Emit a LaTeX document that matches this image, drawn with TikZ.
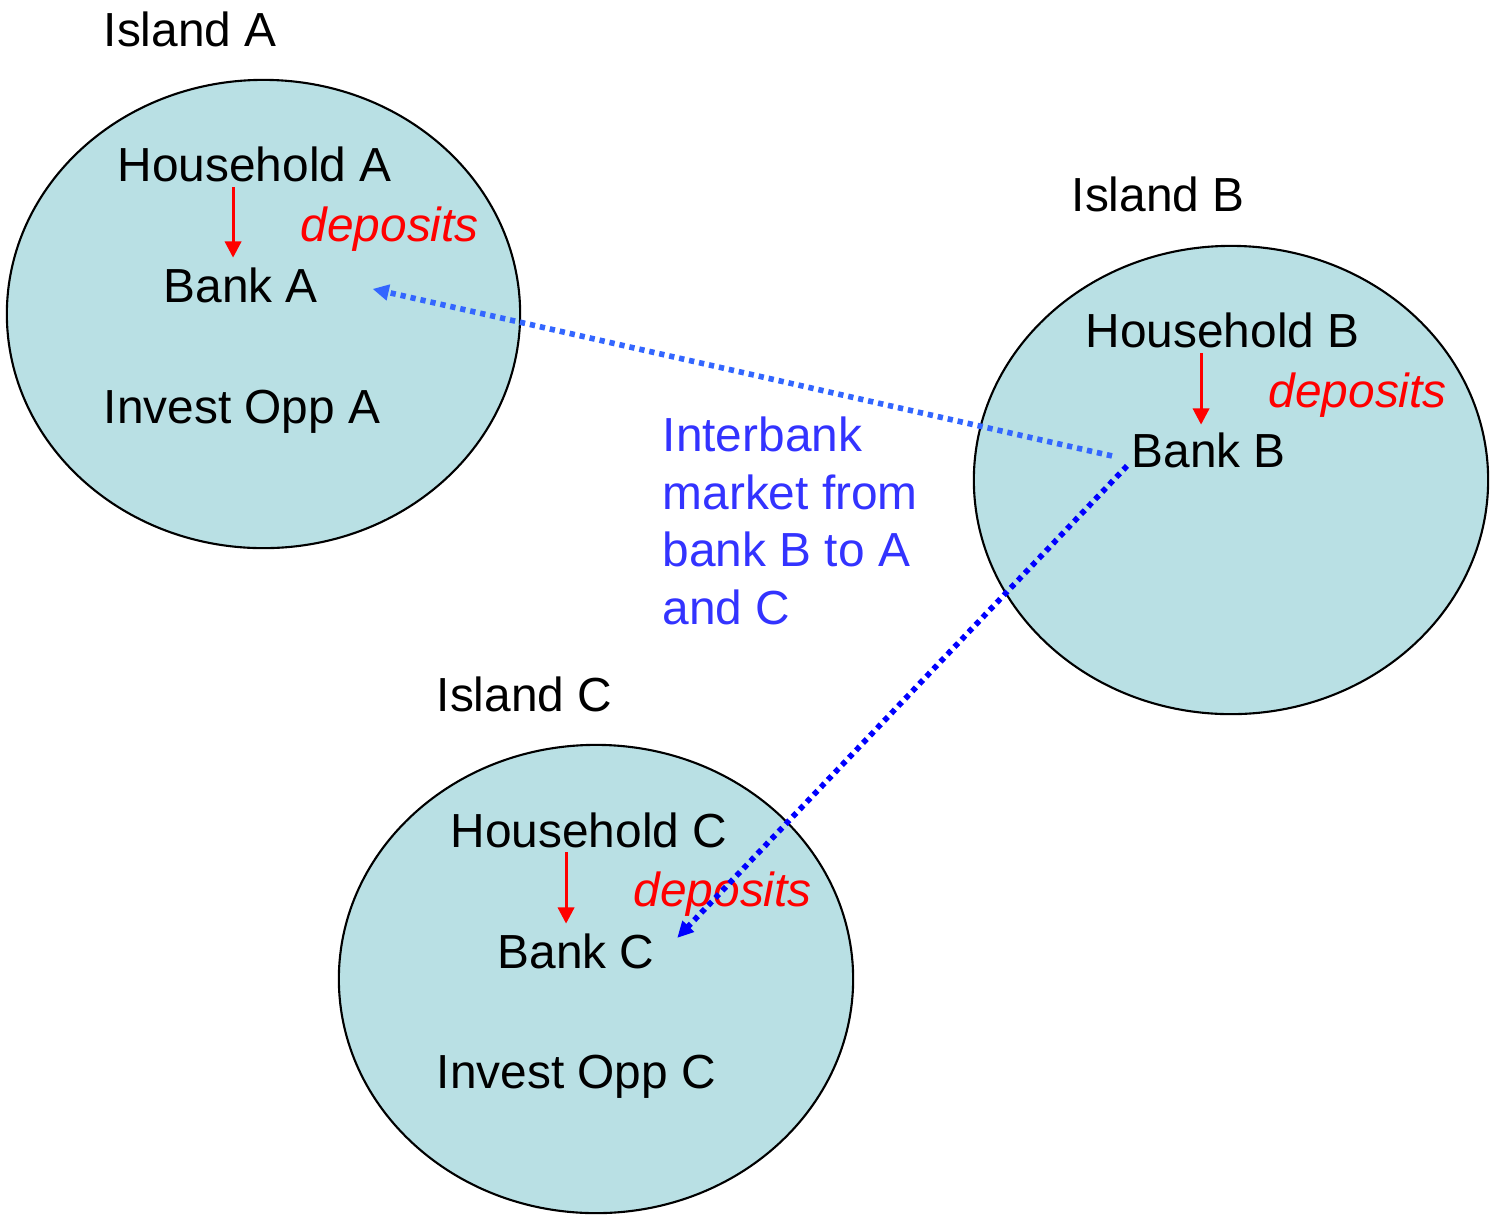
\documentclass[tikz,border=0pt]{standalone}
\usepackage{fontspec}
\setmainfont{Liberation Sans}
\usepackage{tikz}
\usetikzlibrary{arrows.meta,positioning}

\definecolor{islandfill}{RGB}{185,224,228}
\definecolor{loanblue}{RGB}{51,102,255}
\definecolor{loandeep}{RGB}{0,0,255}
\definecolor{marketblue}{RGB}{51,51,255}

\begin{document}
\begin{tikzpicture}[
      x=0.01cm,
      y=-0.01cm,
      island/.style={
          draw=black,
          line width=0.6pt,
          fill=islandfill
        },
      lbl/.style={
          anchor=base west,
          inner sep=0pt,
          font=\fontsize{13.6}{16}\selectfont
        },
      dep/.style={
          lbl,
          text=red,
          font=\fontsize{13.6}{16}\selectfont\itshape
        },
      deparrow/.style={
          draw=red,
          line width=0.85pt,
          -{Triangle[width=4.6pt,length=4.6pt]}
        },
      loan/.style={
          line width=1.6pt,
          dash pattern=on 1.5pt off 1.4pt,
          -{Triangle[width=4.4pt,length=4.6pt]}
        }
    ]
    \useasboundingbox (0,0) rectangle (1490,1217);
    % the three islands
    \draw[island] (263.5,314) ellipse [x radius=2.565cm, y radius=2.34cm];
    \draw[island] (1231,480) ellipse [x radius=2.57cm, y radius=2.34cm];
    \draw[island] (596,979) ellipse [x radius=2.57cm, y radius=2.34cm];

    % island A
    \node[lbl] (islA) at (103,46) {Island A};
    \node[lbl] (hhA) at (117,181) {Household A};
    \node[dep] (depA) at (300,241) {deposits};
    \node[lbl] (bankA) at (163,302) {Bank A};
    \node[lbl] (invA) at (103,423) {Invest Opp A};
    \coordinate (hhAout) at ([xshift=1.16cm,yshift=-0.05cm]hhA.south west);
    \coordinate[yshift=0.09cm] (bankAin) at (hhAout |- bankA.north);
    \draw[deparrow] (hhAout) -- (bankAin);

    % island B
    \node[lbl] (islB) at (1071,211) {Island B};
    \node[lbl] (hhB) at (1085,347) {Household B};
    \node[dep] (depB) at (1268,407) {deposits};
    \node[lbl] (bankB) at (1131,467) {Bank B};
    \coordinate (hhBout) at ([xshift=1.16cm,yshift=-0.05cm]hhB.south west);
    \coordinate[yshift=0.07cm] (bankBin) at (hhBout |- bankB.north);
    \draw[deparrow] (hhBout) -- (bankBin);

    % island C
    \node[lbl] (islC) at (436,711) {Island C};
    \node[lbl] (hhC) at (450,847) {Household C};
    \node[dep] (depC) at (633,906) {deposits};
    \node[lbl] (bankC) at (497,968) {Bank C};
    \node[lbl] (invC) at (436,1088) {Invest Opp C};
    \coordinate (hhCout) at ([xshift=1.16cm,yshift=-0.04cm]hhC.south west);
    \coordinate[yshift=0.09cm] (bankCin) at (hhCout |- bankC.north);
    \draw[deparrow] (hhCout) -- (bankCin);

    % interbank market
    \node[lbl, text=marketblue, align=left, anchor=north west,
          font=\fontsize{13.6}{16.4}\selectfont] (market) at (662,416)
          {Interbank\\market from\\bank B to A\\and C};
    \draw[loan, loanblue] ([xshift=-0.19cm,yshift=-0.06cm]bankB.west) -- ([xshift=0.54cm,yshift=-0.04cm]bankA.east);
    \draw[loan, loandeep] ([xshift=-0.04cm,yshift=-0.16cm]bankB.west) -- ([xshift=0.22cm,yshift=0.13cm]bankC.east);
  \end{tikzpicture}
\end{document}
